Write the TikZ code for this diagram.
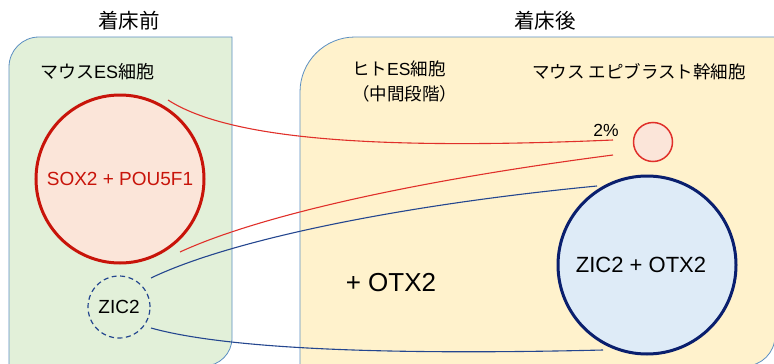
\documentclass[tikz,border=0pt]{standalone}
\usepackage{fontspec}
\setmainfont{Liberation Sans}
\newfontfamily\jp{Noto Sans CJK JP}

\definecolor{preFill}{HTML}{E2F0D9}
\definecolor{postFill}{HTML}{FFF2CC}
\definecolor{boxLine}{HTML}{5B8FC2}
\definecolor{cellRed}{HTML}{C8140A}
\definecolor{lineRed}{HTML}{E0302A}
\definecolor{pinkFill}{HTML}{FBE5D9}
\definecolor{cellNavy}{HTML}{0A1F6E}
\definecolor{lineNavy}{HTML}{24468F}
\definecolor{blueFill}{HTML}{DEEBF7}

\def\titlesize{\fontsize{20.5}{24}\selectfont}
\def\labsize{\fontsize{17.5}{25}\selectfont}

\begin{document}
\begin{tikzpicture}[x=1pt,y=-1pt,
    title/.style={font=\titlesize, inner sep=0pt},
    lab/.style={font=\labsize, inner sep=0pt, anchor=west},
    cell/.style={circle, inner sep=0pt},
    redlink/.style={draw=lineRed, line width=1.1pt},
    navylink/.style={draw=lineNavy, line width=1.1pt}]
  \useasboundingbox (0,0) rectangle (774,364);

  % stage boxes
  \draw[boxLine, fill=preFill, line width=0.8pt] (9,380) -- (9,67) arc[start angle=180, end angle=90, radius=30pt]
    -- (232,37) -- (232,338) arc[start angle=0, end angle=-90, radius=28pt] -- (9,366) -- cycle;
  \draw[boxLine, fill=postFill, line width=0.8pt] (300,380) -- (300,92) arc[start angle=180, end angle=90, radius=55pt]
    -- (775,37) -- (775,336) arc[start angle=0, end angle=-90, radius=30pt] -- (300,366) -- cycle;

  % headings
  \node[title] (pre) at (129,21) {\jp 着床前};
  \node[title] (post) at (545,21) {\jp 着床後};
  \node[lab, font=\fontsize{18}{25}\selectfont] (mes) at (40,72) {{\jp マウス}ES{\jp 細胞}};
  \node[lab, align=left, anchor=north west] (hes) at (352,61) {{\jp ヒト}ES{\jp 細胞}\\{\jp （中間段階）}};
  \node[lab] (epi) at (532,72) {\jp マウス エピブラスト幹細胞};

  % cells
  \node[cell, draw=cellRed, fill=pinkFill, line width=3pt, minimum size=168pt,
        text=cellRed, font=\fontsize{19}{22}\selectfont] (sox) at (120,179) {SOX2 + POU5F1};
  \node[cell, draw=lineNavy, dash pattern=on 5pt off 3.5pt, line width=1.2pt, minimum size=62pt,
        font=\fontsize{19}{22}\selectfont] (zic) at (119,307) {ZIC2};
  \node[cell, draw=lineRed, fill=pinkFill, line width=1.5pt, minimum size=39pt] (tiny) at (653,142) {};
  \node[font=\labsize, inner sep=0pt] (pct) at (606,130) {2\%};
  \node[cell, draw=cellNavy, fill=blueFill, line width=3pt, minimum size=178pt,
        font=\fontsize{22}{26}\selectfont] (zicotx) at (647,265) {\hspace*{-12pt}ZIC2 + OTX2};
  \node[font=\fontsize{26}{30}\selectfont, inner sep=0pt] (otx) at (391,283) {+ OTX2};

  % link ends
  \coordinate (r1s) at (168,100);
  \coordinate (r1e) at (613,140);
  \coordinate (r2s) at (180,252);
  \coordinate (r2e) at (613,155);
  \coordinate (b1s) at (151,278);
  \coordinate (b1e) at (597,186);
  \coordinate (b2s) at (151,328);
  \coordinate (b2e) at (603,350);

  \draw[redlink] (r1s) .. controls (230,140) and (380,150) .. (r1e);
  \draw[redlink] (r2s) .. controls (260,215) and (420,180) .. (r2e);
  \draw[navylink] (b1s) .. controls (230,240) and (400,205) .. (b1e);
  \draw[navylink] (b2s) .. controls (230,350) and (400,355) .. (b2e);
\end{tikzpicture}
\end{document}
